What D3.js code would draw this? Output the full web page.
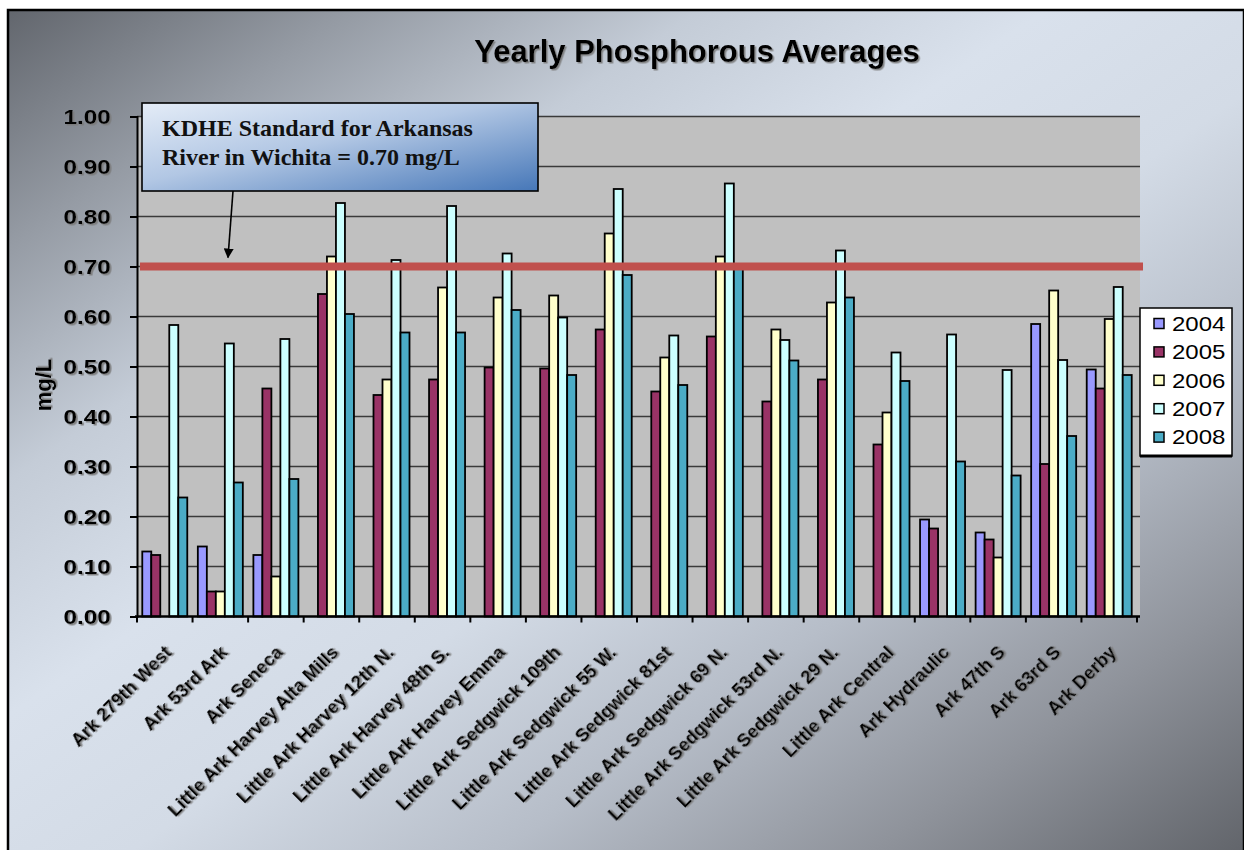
<!DOCTYPE html>
<html>
<head>
<meta charset="utf-8">
<script src="https://cdn.jsdelivr.net/npm/d3@7"></script>
<style>
  html, body { margin: 0; padding: 0; background: #ffffff; }
  svg { display: block; }
</style>
</head>
<body>
<div id="chart"></div>
<script>
// Sampling sites along the Arkansas and Little Arkansas rivers
const categories = [
  "Ark 279th West", "Ark 53rd Ark", "Ark Seneca",
  "Little Ark Harvey Alta Mills", "Little Ark Harvey 12th N.",
  "Little Ark Harvey 48th S.", "Little Ark Harvey Emma",
  "Little Ark Sedgwick 109th", "Little Ark Sedgwick 55 W.",
  "Little Ark Sedgwick 81st", "Little Ark Sedgwick 69 N.",
  "Little Ark Sedgwick 53rd N.", "Little Ark Sedgwick 29 N.",
  "Little Ark Central", "Ark Hydraulic", "Ark 47th S", "Ark 63rd S", "Ark Derby"
];

const years = ["2004", "2005", "2006", "2007", "2008"];

// Yearly average total phosphorus, mg/L (null = no samples that year)
const v2004 = [0.13, 0.14, 0.123, null, null, null, null, null, null, null, null, null, null, null, 0.194, 0.168, 0.585, 0.494];
const v2005 = [0.123, 0.05, 0.456, 0.645, 0.443, 0.474, 0.498, 0.496, 0.574, 0.45, 0.56, 0.43, 0.474, 0.344, 0.176, 0.154, 0.305, 0.456];
const v2006 = [null, 0.05, 0.08, 0.72, 0.474, 0.658, 0.638, 0.642, 0.766, 0.518, 0.72, 0.574, 0.628, 0.408, null, 0.118, 0.652, 0.595];
const v2007 = [0.583, 0.546, 0.555, 0.827, 0.713, 0.821, 0.726, 0.598, 0.855, 0.562, 0.866, 0.553, 0.732, 0.528, 0.564, 0.493, 0.513, 0.659];
const v2008 = [0.238, 0.268, 0.275, 0.605, 0.568, 0.568, 0.613, 0.483, 0.683, 0.463, 0.704, 0.512, 0.638, 0.471, 0.31, 0.282, 0.361, 0.483];

const yTicks = [0, 0.1, 0.2, 0.3, 0.4, 0.5, 0.6, 0.7, 0.8, 0.9, 1.0];

// KDHE standard for the Arkansas River in Wichita
const standardValue = 0.70;
const calloutLines = ["KDHE Standard for Arkansas", "River in Wichita = 0.70 mg/L"];

const seriesValues = [v2004, v2005, v2006, v2007, v2008];
const seriesColors = ["#9999ff", "#993366", "#ffffcc", "#ccffff", "#4bacc6"];

const SANS = "Arial, 'Liberation Sans', sans-serif";
const SERIF = "'Times New Roman', 'Liberation Serif', serif";

const W = 1244, H = 850;
const plot = { left: 137, right: 1137, top: 116.5, bottom: 616.5 };

const svg = d3.select("#chart").append("svg")
  .attr("width", W).attr("height", H)
  .style("font-family", SANS);

const defs = svg.append("defs");

// Page background: dark at two opposite corners, pale blue-grey across the middle
const bg = defs.append("linearGradient").attr("id", "bgGrad")
  .attr("x1", 0).attr("y1", 0).attr("x2", 1).attr("y2", 1);
[[0, "#62666d"], [0.14, "#959ba4"], [0.28, "#c4ccd7"], [0.42, "#d9e1ec"],
 [0.55, "#d3dbe6"], [0.7, "#b6bdc8"], [0.85, "#8f939b"], [1, "#62656b"]]
  .forEach(([o, c]) => bg.append("stop").attr("offset", o).attr("stop-color", c));

// Callout fill
const cg = defs.append("linearGradient").attr("id", "calloutGrad")
  .attr("x1", 0).attr("y1", 0).attr("x2", 1).attr("y2", 1);
[[0, "#e4ecf7"], [0.45, "#b2c7e4"], [1, "#4677b8"]]
  .forEach(([o, c]) => cg.append("stop").attr("offset", o).attr("stop-color", c));

// Soft grey drop shadow used on the axis text and title
const sh = defs.append("filter").attr("id", "textShadow")
  .attr("x", "-10%").attr("y", "-30%").attr("width", "130%").attr("height", "170%");
sh.append("feDropShadow").attr("dx", 1.5).attr("dy", 1.5)
  .attr("stdDeviation", 0.6).attr("flood-color", "#7a7a7a").attr("flood-opacity", 0.9);

defs.append("marker").attr("id", "arrowHead")
  .attr("viewBox", "0 0 10 10").attr("refX", 9).attr("refY", 5)
  .attr("markerWidth", 10).attr("markerHeight", 10)
  .attr("markerUnits", "userSpaceOnUse").attr("orient", "auto")
  .append("path").attr("d", "M0,0 L10,5 L0,10 Z").attr("fill", "#000");

// Background + frame
svg.append("rect").attr("x", 8).attr("y", 10).attr("width", W - 8).attr("height", H - 10)
  .attr("fill", "url(#bgGrad)");
svg.append("rect").attr("x", 8).attr("y", 10).attr("width", W - 8).attr("height", H)
  .attr("fill", "none").attr("stroke", "#000").attr("stroke-width", 2.5);

// Scales
const x0 = d3.scaleBand().domain(categories)
  .range([plot.left, plot.right]).paddingInner(0.19).paddingOuter(0.095);
const x1 = d3.scaleBand().domain(years).range([0, x0.bandwidth()]);
const y = d3.scaleLinear().domain([0, 1]).range([plot.bottom, plot.top]);

// Plot area
svg.append("rect").attr("x", plot.left).attr("y", plot.top)
  .attr("width", plot.right - plot.left + 3).attr("height", plot.bottom - plot.top)
  .attr("fill", "#c0c0c0");

// Gridlines
svg.append("g").selectAll("line").data(yTicks.filter(d => d > 0)).join("line")
  .attr("x1", plot.left).attr("x2", plot.right + 3)
  .attr("y1", d => y(d)).attr("y2", d => y(d))
  .attr("stroke", "#3a3a3a").attr("stroke-width", 1.3);

// Bars
const barG = svg.append("g");
years.forEach((yr, si) => {
  const vals = seriesValues[si];
  barG.append("g").selectAll("rect")
    .data(categories.map((c, i) => ({ c, v: vals[i] })).filter(d => d.v != null))
    .join("rect")
    .attr("x", d => x0(d.c) + x1(yr))
    .attr("y", d => y(d.v))
    .attr("width", x1.bandwidth())
    .attr("height", d => y(0) - y(d.v))
    .attr("fill", seriesColors[si])
    .attr("stroke", "#000").attr("stroke-width", 1.8);
});

// Y axis
const yAxis = svg.append("g").attr("transform", `translate(${plot.left},0)`)
  .call(d3.axisLeft(y).tickValues(yTicks).tickFormat(d3.format(".2f"))
    .tickSize(7).tickPadding(18));
yAxis.attr("font-family", SANS);
yAxis.select(".domain").attr("stroke", "#000").attr("stroke-width", 2);
yAxis.selectAll(".tick line").attr("stroke", "#000").attr("stroke-width", 2);
yAxis.selectAll(".tick text")
  .attr("font-size", 21).attr("font-weight", "bold").attr("fill", "#000")
  .attr("filter", "url(#textShadow)")
  .attr("transform", "scale(1.16,1)")
  .attr("x", -25 / 1.16 - 1);

// X axis: baseline with ticks on category boundaries
const xAxis = svg.append("g");
xAxis.append("line").attr("x1", plot.left - 2).attr("x2", plot.right + 3)
  .attr("y1", plot.bottom).attr("y2", plot.bottom)
  .attr("stroke", "#000").attr("stroke-width", 2.5);
const bounds = categories.map(c => x0(c) - x0.step() * x0.paddingOuter())
  .concat([plot.right]);
xAxis.selectAll("line.tk").data(bounds).join("line").attr("class", "tk")
  .attr("x1", d => d).attr("x2", d => d)
  .attr("y1", plot.bottom).attr("y2", plot.bottom + 6)
  .attr("stroke", "#000").attr("stroke-width", 2);

xAxis.selectAll("text.cat").data(categories).join("text").attr("class", "cat")
  .attr("transform", d => `translate(${x0(d) + x0.bandwidth() / 2 + 8},${plot.bottom + 37}) rotate(-45)`)
  .attr("text-anchor", "end")
  .attr("font-size", 18.5).attr("font-weight", "bold").attr("fill", "#000")
  .attr("filter", "url(#textShadow)")
  .text(d => d);

// Y axis title
svg.append("text")
  .attr("transform", "translate(51,385) rotate(-90)")
  .attr("text-anchor", "middle")
  .attr("font-size", 22).attr("font-weight", "bold").attr("fill", "#000")
  .attr("filter", "url(#textShadow)")
  .text("mg/L");

// Chart title
svg.append("text")
  .attr("x", 697).attr("y", 62)
  .attr("text-anchor", "middle")
  .attr("font-size", 31).attr("font-weight", "bold").attr("fill", "#000")
  .attr("filter", "url(#textShadow)")
  .text("Yearly Phosphorous Averages");

// Standard line
svg.append("line")
  .attr("x1", plot.left + 3).attr("x2", plot.right + 6)
  .attr("y1", y(standardValue)).attr("y2", y(standardValue))
  .attr("stroke", "#c0504d").attr("stroke-width", 8);

// Callout box and arrow
svg.append("line")
  .attr("x1", 233).attr("y1", 191).attr("x2", 228).attr("y2", y(standardValue) - 9)
  .attr("stroke", "#000").attr("stroke-width", 1.6)
  .attr("marker-end", "url(#arrowHead)");
svg.append("rect").attr("x", 142).attr("y", 103).attr("width", 396).attr("height", 88)
  .attr("fill", "url(#calloutGrad)").attr("stroke", "#000").attr("stroke-width", 1.6);
svg.append("g").selectAll("text").data(calloutLines).join("text")
  .attr("x", 162).attr("y", (d, i) => 136 + i * 28.5)
  .style("font-family", SERIF)
  .attr("font-size", 24).attr("font-weight", "bold").attr("fill", "#111")
  .text(d => d);

// Legend
const lg = svg.append("g").attr("transform", "translate(1140,308)");
lg.append("rect").attr("width", 92).attr("height", 148)
  .attr("fill", "#ffffff").attr("stroke", "#000").attr("stroke-width", 1.5);
lg.append("line").attr("x1", 0).attr("x2", 92).attr("y1", 148).attr("y2", 148)
  .attr("stroke", "#000").attr("stroke-width", 3);
const li = lg.selectAll("g.item").data(years).join("g").attr("class", "item")
  .attr("transform", (d, i) => `translate(0,${15.5 + i * 28.4})`);
li.append("rect").attr("x", 14).attr("y", -5).attr("width", 10).attr("height", 10)
  .attr("fill", (d, i) => seriesColors[i]).attr("stroke", "#000").attr("stroke-width", 1.5);
li.append("text").attr("transform", "translate(32,0) scale(1.2,1)")
  .attr("dy", "0.36em").attr("font-size", 20).attr("fill", "#000")
  .text(d => d);
</script>
</body>
</html>
